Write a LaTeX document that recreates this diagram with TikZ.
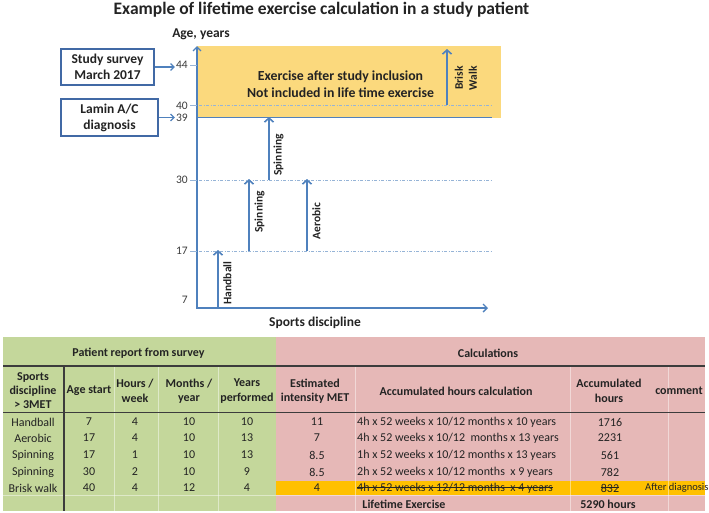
\documentclass[tikz,border=0pt]{standalone}
\usepackage{fontspec}
\setmainfont{Carlito}
\usetikzlibrary{arrows.meta}
\definecolor{axb}{RGB}{79,129,189}
\definecolor{boxb}{RGB}{65,105,165}
\definecolor{ddb}{RGB}{150,180,215}
\definecolor{yel}{RGB}{251,217,125}
\definecolor{grn}{RGB}{196,215,155}
\definecolor{pnk}{RGB}{230,184,183}
\definecolor{org}{RGB}{255,192,0}
\definecolor{txt}{RGB}{35,35,35}
\definecolor{rulec}{RGB}{60,60,60}
\tikzset{
  axisline/.style={draw=axb, line width=1.6pt, -{Straight Barb[length=4pt,width=8pt,line width=1.4pt]}},
  sport/.style={draw=axb, line width=2.2pt, -{Straight Barb[length=4pt,width=9pt,line width=1.6pt]}},
  conn/.style={draw=axb, line width=1.5pt, -{Straight Barb[length=3.5pt,width=7pt,line width=1.3pt]}},
  ddline/.style={draw=ddb, line width=0.8pt, dash pattern=on 3pt off 1.5pt on 1pt off 1.5pt},
  lbox/.style={draw=boxb, line width=1.8pt, align=center, inner sep=2pt, font=\bfseries\fontsize{13.5}{16}\selectfont, text=txt},
  ticklab/.style={anchor=east, inner sep=1pt, font=\fontsize{11.5}{11.5}\selectfont, text=rulec},
  slabel/.style={rotate=90, font=\bfseries\fontsize{11.5}{14}\selectfont, text=txt, inner sep=1pt},
  cell/.style={font=\fontsize{12}{14.5}\selectfont, text=txt, inner sep=1pt, align=center},
  hcell/.style={font=\bfseries\fontsize{12}{14.5}\selectfont, text=txt, inner sep=1pt, align=center},
  rulel/.style={draw=rulec, line width=1.1pt},
  faint/.style={draw=white, opacity=0.45, line width=0.7pt},
  strike/.style={draw=txt, line width=0.8pt}
}
\begin{document}
\begin{tikzpicture}[x=1pt,y=-1pt]
\useasboundingbox (0,0) rectangle (709,512);

% title
\node[font=\bfseries\fontsize{17.5}{19}\selectfont, text=txt] (title) at (321.5,9.5) {Example of lifetime exercise calculation in a study patient};

% yellow region
\fill[yel] (197,46) rectangle (501,118);

% dash-dot reference lines
\draw[ddline] (199,105.5) -- (493,105.5);
\draw[ddline] (199,180) -- (493,180);
\draw[ddline] (199,251) -- (493,251);
\draw[axb, line width=1.6pt] (197,117.5) -- (492,117.5);

% axes
\coordinate (O) at (197,308);
\coordinate (ytop) at (197,46);
\coordinate (xend) at (488,308);
\draw[axisline] (O) -- (ytop);
\draw[axisline] ([xshift=-0.8pt]O) -- (xend);
\node[font=\bfseries\fontsize{13.5}{14}\selectfont, text=txt] (ylab) at (201,34) {Age, years};
\node[font=\bfseries\fontsize{13.5}{14}\selectfont, text=txt] (xlab) at (315,323) {Sports discipline};

% tick labels
\node[ticklab] (t44) at (189,65) {44};
\node[ticklab] (t40) at (189,106) {40};
\node[ticklab] (t39) at (189,118) {39};
\node[ticklab] (t30) at (189,180) {30};
\node[ticklab] (t17) at (189,251) {17};
\node[ticklab] (t7) at (189,300) {7};
\foreach \yy in {65,105.5,180,251} \draw[ddb, line width=0.8pt] (190,\yy) -- (197,\yy);

% side boxes
\node[lbox, minimum width=93pt, minimum height=36pt] (ss) at (107.5,67) {Study survey\\March 2017};
\node[lbox, minimum width=97pt, minimum height=37pt] (lm) at (109.5,117.5) {Lamin A/C\\diagnosis};
\draw[conn] (ss.east) -- (ss.east -| t44.west);
\draw[conn] (lm.east) -- (lm.east -| t39.west);

% exercise text
\node[font=\bfseries\fontsize{13.8}{17}\selectfont, text=txt, align=center] (ex) at (340.5,84.5) {Exercise after study inclusion\\Not included in life time exercise};

% sport arrows
\coordinate (hb0) at (218,308); \coordinate (hb1) at (218,250);
\coordinate (sa0) at (249,251); \coordinate (sa1) at (249,179);
\coordinate (ae0) at (307,251); \coordinate (ae1) at (307,179);
\coordinate (sb0) at (269,180); \coordinate (sb1) at (269,117);
\coordinate (bw0) at (447,105); \coordinate (bw1) at (447,49);
\draw[sport] (hb0) -- (hb1);
\draw[sport] (sa0) -- (sa1);
\draw[sport] (ae0) -- (ae1);
\draw[sport] (sb0) -- (sb1);
\draw[sport, line width=1.8pt] (bw0) -- (bw1);
\node[slabel] (lhb) at (227.5,283) {Handball};
\node[slabel] (lsa) at (259.5,212) {Spinning};
\node[slabel] (lae) at (316.5,221) {Aerobic};
\node[slabel] (lsb) at (278.5,155) {Spinning};
\node[slabel, align=center] (lbw) at (466,78) {Brisk\\Walk};

% ===== table =====
\fill[grn] (3,337) rectangle (276,511);
\fill[pnk] (276,337) rectangle (705,511);
\fill[org] (276,481) rectangle (705,495);
% faint separators
\foreach \xx in {114,158,218,355,570,668} \draw[faint] (\xx,366) -- (\xx,511);
\draw[faint] (3,495.5) -- (705,495.5);
% dark rules
\draw[rulel] (3,366) -- (705,366);
\draw[rulel] (3,412.5) -- (705,412.5);
\draw[rulel] (64,366) -- (64,511);

% header row 1
\node[hcell] (h1a) at (138.5,353) {Patient report from survey};
\node[hcell] (h1b) at (488,353) {Calculations};
% header row 2
\node[hcell, font=\bfseries\fontsize{12}{14}\selectfont] (h2a) at (33,391) {Sports\\discipline\\> 3MET};
\node[hcell] (h2b) at (89,391) {Age start};
\node[hcell] (h2c) at (135,391) {Hours /\\week};
\node[hcell] (h2d) at (189,391) {Months /\\year};
\node[hcell] (h2e) at (247,391) {Years\\performed};
\node[hcell] (h2f) at (315,391) {Estimated\\intensity MET};
\node[hcell] (h2g) at (456,391) {Accumulated hours calculation};
\node[hcell] (h2h) at (609,391) {Accumulated\\hours};
\node[hcell] (h2i) at (679,391) {comment};

% data rows
\foreach \n/\yy/\sp/\ag/\hw/\my/\yp/\met/\calc/\acc in {
  1/422/Handball/7/4/10/10/11/{4h x 52 weeks x 10/12 months x 10 years}/1716,
  2/438/Aerobic/17/4/10/13/7/{4h x 52 weeks x 10/12 \ months x 13 years}/2231,
  3/455/Spinning/17/1/10/13/8.5/{1h x 52 weeks x 10/12 months x 13 years}/561,
  4/472/Spinning/30/2/10/9/8.5/{2h x 52 weeks x 10/12 months \ x 9 years}/782}{
  \node[cell] (r\n a) at (33,\yy) {\sp};
  \node[cell] (r\n b) at (89,\yy) {\ag};
  \node[cell] (r\n c) at (135,\yy) {\hw};
  \node[cell] (r\n d) at (189,\yy) {\my};
  \node[cell] (r\n e) at (247,\yy) {\yp};
  \node[cell] (r\n f) at (317,\yy) {\met};
  \node[cell, anchor=west] (r\n g) at (356,\yy) {\calc};
  \node[cell] (r\n h) at (610,\yy) {\acc};
}
\node[cell] (r5a) at (33,488) {Brisk walk};
\node[cell] (r5b) at (89,488) {40};
\node[cell] (r5c) at (135,488) {4};
\node[cell] (r5d) at (189,488) {12};
\node[cell] (r5e) at (247,488) {4};
\node[cell] (r5f) at (317,488) {4};
\node[cell, anchor=west] (r5g) at (356,488) {4h x 52 weeks x 12/12 months \ x 4 years};
\node[cell] (r5h) at (610,488) {832};
\draw[strike] ([xshift=1pt,yshift=0.5pt]r5g.west) -- ([xshift=-1pt,yshift=0.5pt]r5g.east);
\draw[strike] ([xshift=1pt,yshift=0.5pt]r5h.west) -- ([xshift=-1pt,yshift=0.5pt]r5h.east);
\node[cell, font=\fontsize{10.5}{12}\selectfont, anchor=west] (r5i) at (644,488) {After diagnosis};

% lifetime row
\node[hcell] (lt) at (404,504) {Lifetime Exercise};
\node[hcell] (ltv) at (608,504) {5290 hours};
\end{tikzpicture}
\end{document}
